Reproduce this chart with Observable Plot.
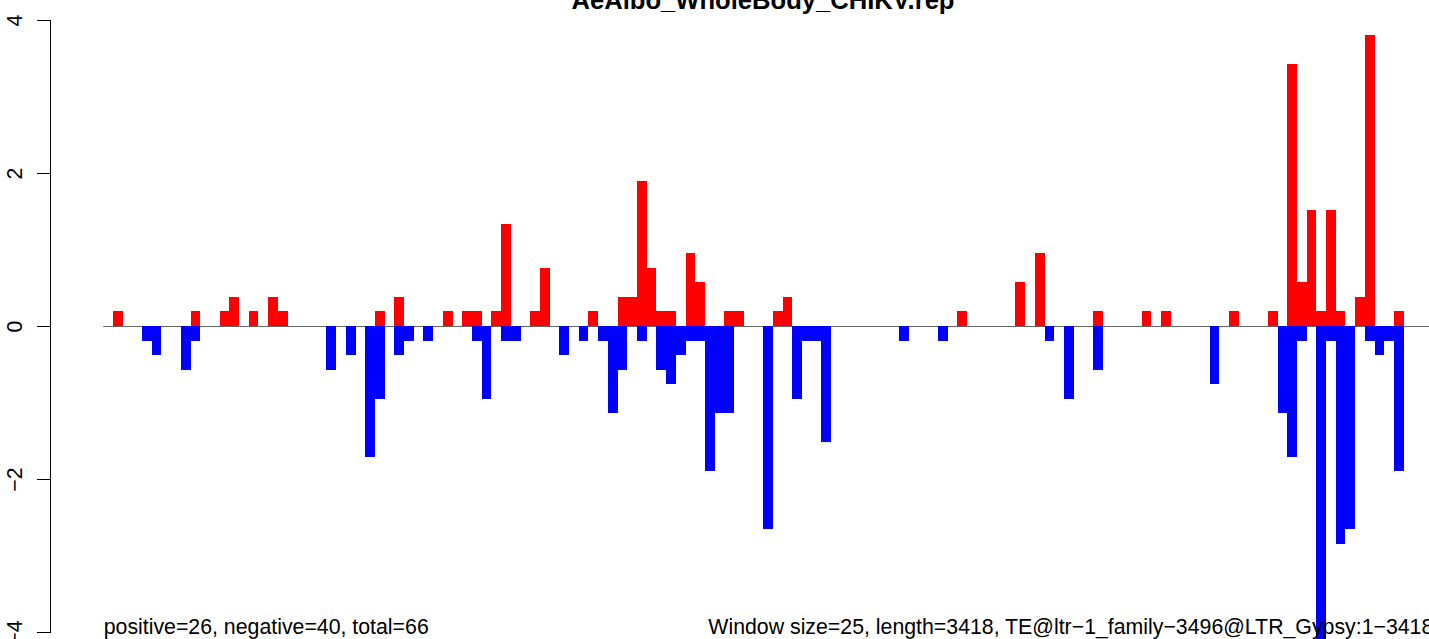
<!DOCTYPE html>
<html>
<head>
<meta charset="utf-8">
<script src="https://cdn.jsdelivr.net/npm/d3@7"></script>
<script src="https://cdn.jsdelivr.net/npm/@observablehq/plot@0.6"></script>
<style>
  html, body { margin: 0; padding: 0; background: #fff; overflow: hidden; }
  svg { display: block; }
</style>
</head>
<body>
<script>
const title = "AeAlbo_WholeBody_CHIKV.rep";
const windowSize = 25;
const seqLength = 3418;
const nWindows = 137;
const teName = "TE@ltr\u22121_family\u22123496@LTR_Gypsy:1\u22123418";
const positiveCount = 26;
const negativeCount = 40;

const posWindow = [1,9,12,13,15,17,18,28,30,35,37,38,40,41,44,45,50,53,54,55,56,57,58,60,61,64,65,69,70,88,94,96,102,107,109,116,120,122,123,124,125,126,127,129,130,133];
const posValue  = [0.19,0.19,0.19,0.38,0.19,0.38,0.19,0.19,0.38,0.19,0.19,0.19,0.19,1.33,0.19,0.76,0.19,0.38,0.38,1.9,0.76,0.19,0.19,0.95,0.57,0.19,0.19,0.19,0.38,0.19,0.57,0.95,0.19,0.19,0.19,0.19,0.19,3.42,0.57,1.52,0.19,1.52,0.19,0.38,3.8,0.19];

const negWindow = [4,5,8,9,23,25,27,28,30,31,33,38,39,41,42,47,49,51,52,53,55,57,58,59,60,61,62,63,64,68,71,72,73,74,82,86,97,99,102,114,121,122,123,125,126,127,128,130,131,132,133];
const negValue  = [-0.19,-0.38,-0.57,-0.19,-0.57,-0.38,-1.71,-0.95,-0.38,-0.19,-0.19,-0.19,-0.95,-0.19,-0.19,-0.38,-0.19,-0.19,-1.14,-0.57,-0.19,-0.57,-0.76,-0.38,-0.19,-0.19,-1.9,-1.14,-1.14,-2.66,-0.95,-0.19,-0.19,-1.52,-0.19,-0.19,-0.19,-0.95,-0.57,-0.76,-1.14,-1.71,-0.19,-4.18,-0.19,-2.85,-2.66,-0.19,-0.38,-0.19,-1.9];

const yTicks = [-4, -2, 0, 2, 4];

const pos = posWindow.map((w, i) => ({w, v: posValue[i]}));
const neg = negWindow.map((w, i) => ({w, v: negValue[i]}));
const xMax = nWindows * windowSize;

const fontFamily = "'Liberation Sans', Arial, Helvetica, sans-serif";
const fs = 21.3;

const chart = Plot.plot({
  width: 1429,
  height: 639,
  marginLeft: 50,
  marginRight: 0,
  marginTop: 20,
  marginBottom: 7,
  style: {fontFamily, fontSize: fs + "px", color: "#000", background: "#fff", overflow: "visible"},
  x: {domain: [0, xMax], range: [103.2, 1432.8], axis: null},
  y: {domain: [-4, 4], range: [632, 20], axis: null},
  marks: [
    Plot.frame({anchor: "left", stroke: "#000", strokeWidth: 1}),
    Plot.axisY(yTicks, {
      anchor: "left",
      label: null,
      tickSize: 13,
      tickPadding: 16,
      tickRotate: -90,
      tickFormat: d => String(d).replace("-", "\u2212"),
      fontSize: fs,
      stroke: "#000",
      fill: "#000"
    }),
    Plot.ruleY([0], {x1: 0, x2: xMax, stroke: "#666", strokeWidth: 1.2}),
    Plot.rectY(pos, {x1: d => d.w * windowSize, x2: d => (d.w + 1) * windowSize, y1: 0, y2: "v", fill: "#ff0000", shapeRendering: "crispEdges"}),
    Plot.rectY(neg, {x1: d => d.w * windowSize, x2: d => (d.w + 1) * windowSize, y1: 0, y2: "v", fill: "#0000ff", shapeRendering: "crispEdges"}),
    Plot.text([`positive=${positiveCount}, negative=${negativeCount}, total=${positiveCount + negativeCount}`], {
      x: 0, y: -4, text: d => d, textAnchor: "start", lineAnchor: "middle", dy: -5, fontSize: fs, fill: "#000"
    }),
    Plot.text([`Window size=${windowSize}, length=${seqLength}, ${teName}`], {
      x: xMax, y: -4, text: d => d, textAnchor: "end", lineAnchor: "middle", dy: -5, fontSize: fs, fill: "#000"
    }),
    Plot.text([title], {
      frameAnchor: "top", text: d => d, lineAnchor: "bottom", dx: 23, dy: -12,
      fontSize: 25.6, fontWeight: "bold", fill: "#000"
    })
  ]
});
document.body.appendChild(chart);
</script>
</body>
</html>
